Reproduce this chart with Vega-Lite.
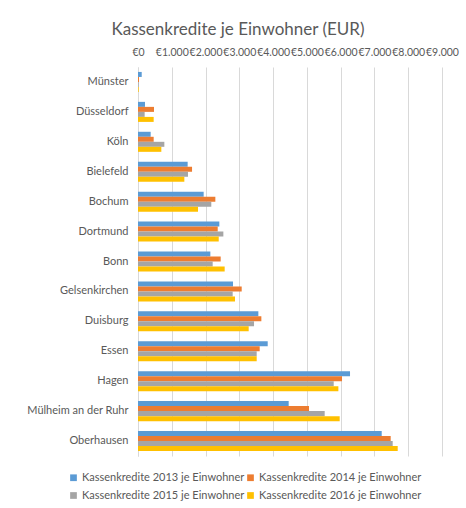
{
  "$schema": "https://vega.github.io/schema/vega-lite/v6.json",
  "width": 304,
  "height": 389,
  "autosize": "none",
  "padding": {"left": 138, "top": 67, "right": 24, "bottom": 52},
  "background": "white",
  "title": {
    "text": "Kassenkredite je Einwohner (EUR)",
    "font": "Lato",
    "fontSize": 17,
    "fontWeight": "normal",
    "color": "#595959",
    "anchor": "middle",
    "dx": -52,
    "offset": 8
  },
  "data": {
    "values": [
      {"city": "Münster", "series": "Kassenkredite 2013 je Einwohner", "value": 110},
      {"city": "Münster", "series": "Kassenkredite 2014 je Einwohner", "value": 30},
      {"city": "Münster", "series": "Kassenkredite 2015 je Einwohner", "value": 20},
      {"city": "Münster", "series": "Kassenkredite 2016 je Einwohner", "value": 20},
      {"city": "Düsseldorf", "series": "Kassenkredite 2013 je Einwohner", "value": 207},
      {"city": "Düsseldorf", "series": "Kassenkredite 2014 je Einwohner", "value": 474},
      {"city": "Düsseldorf", "series": "Kassenkredite 2015 je Einwohner", "value": 197},
      {"city": "Düsseldorf", "series": "Kassenkredite 2016 je Einwohner", "value": 464},
      {"city": "Köln", "series": "Kassenkredite 2013 je Einwohner", "value": 375},
      {"city": "Köln", "series": "Kassenkredite 2014 je Einwohner", "value": 464},
      {"city": "Köln", "series": "Kassenkredite 2015 je Einwohner", "value": 780},
      {"city": "Köln", "series": "Kassenkredite 2016 je Einwohner", "value": 691},
      {"city": "Bielefeld", "series": "Kassenkredite 2013 je Einwohner", "value": 1470},
      {"city": "Bielefeld", "series": "Kassenkredite 2014 je Einwohner", "value": 1600},
      {"city": "Bielefeld", "series": "Kassenkredite 2015 je Einwohner", "value": 1480},
      {"city": "Bielefeld", "series": "Kassenkredite 2016 je Einwohner", "value": 1372},
      {"city": "Bochum", "series": "Kassenkredite 2013 je Einwohner", "value": 1944},
      {"city": "Bochum", "series": "Kassenkredite 2014 je Einwohner", "value": 2290},
      {"city": "Bochum", "series": "Kassenkredite 2015 je Einwohner", "value": 2170},
      {"city": "Bochum", "series": "Kassenkredite 2016 je Einwohner", "value": 1777},
      {"city": "Dortmund", "series": "Kassenkredite 2013 je Einwohner", "value": 2408},
      {"city": "Dortmund", "series": "Kassenkredite 2014 je Einwohner", "value": 2360},
      {"city": "Dortmund", "series": "Kassenkredite 2015 je Einwohner", "value": 2527},
      {"city": "Dortmund", "series": "Kassenkredite 2016 je Einwohner", "value": 2390},
      {"city": "Bonn", "series": "Kassenkredite 2013 je Einwohner", "value": 2142},
      {"city": "Bonn", "series": "Kassenkredite 2014 je Einwohner", "value": 2448},
      {"city": "Bonn", "series": "Kassenkredite 2015 je Einwohner", "value": 2211},
      {"city": "Bonn", "series": "Kassenkredite 2016 je Einwohner", "value": 2566},
      {"city": "Gelsenkirchen", "series": "Kassenkredite 2013 je Einwohner", "value": 2813},
      {"city": "Gelsenkirchen", "series": "Kassenkredite 2014 je Einwohner", "value": 3070},
      {"city": "Gelsenkirchen", "series": "Kassenkredite 2015 je Einwohner", "value": 2803},
      {"city": "Gelsenkirchen", "series": "Kassenkredite 2016 je Einwohner", "value": 2872},
      {"city": "Duisburg", "series": "Kassenkredite 2013 je Einwohner", "value": 3563},
      {"city": "Duisburg", "series": "Kassenkredite 2014 je Einwohner", "value": 3652},
      {"city": "Duisburg", "series": "Kassenkredite 2015 je Einwohner", "value": 3435},
      {"city": "Duisburg", "series": "Kassenkredite 2016 je Einwohner", "value": 3277},
      {"city": "Essen", "series": "Kassenkredite 2013 je Einwohner", "value": 3840},
      {"city": "Essen", "series": "Kassenkredite 2014 je Einwohner", "value": 3603},
      {"city": "Essen", "series": "Kassenkredite 2015 je Einwohner", "value": 3514},
      {"city": "Essen", "series": "Kassenkredite 2016 je Einwohner", "value": 3514},
      {"city": "Hagen", "series": "Kassenkredite 2013 je Einwohner", "value": 6277},
      {"city": "Hagen", "series": "Kassenkredite 2014 je Einwohner", "value": 6040},
      {"city": "Hagen", "series": "Kassenkredite 2015 je Einwohner", "value": 5794},
      {"city": "Hagen", "series": "Kassenkredite 2016 je Einwohner", "value": 5932},
      {"city": "Mülheim an der Ruhr", "series": "Kassenkredite 2013 je Einwohner", "value": 4461},
      {"city": "Mülheim an der Ruhr", "series": "Kassenkredite 2014 je Einwohner", "value": 5063},
      {"city": "Mülheim an der Ruhr", "series": "Kassenkredite 2015 je Einwohner", "value": 5527},
      {"city": "Mülheim an der Ruhr", "series": "Kassenkredite 2016 je Einwohner", "value": 5971},
      {"city": "Oberhausen", "series": "Kassenkredite 2013 je Einwohner", "value": 7215},
      {"city": "Oberhausen", "series": "Kassenkredite 2014 je Einwohner", "value": 7481},
      {"city": "Oberhausen", "series": "Kassenkredite 2015 je Einwohner", "value": 7540},
      {"city": "Oberhausen", "series": "Kassenkredite 2016 je Einwohner", "value": 7689}
    ]
  },
  "mark": {"type": "bar"},
  "encoding": {
    "y": {
      "field": "city",
      "type": "nominal",
      "sort": null,
      "scale": {"paddingInner": 0.33, "paddingOuter": 0.165},
      "axis": {
        "title": null,
        "ticks": false,
        "domain": true,
        "domainColor": "#d9d9d9",
        "labelFont": "Lato",
        "labelFontSize": 11,
        "labelColor": "#595959",
        "labelPadding": 10
      }
    },
    "yOffset": {"field": "series", "type": "nominal", "sort": null},
    "x": {
      "field": "value",
      "type": "quantitative",
      "scale": {"domain": [0, 9000], "nice": false},
      "axis": {
        "orient": "top",
        "title": null,
        "values": [0, 1000, 2000, 3000, 4000, 5000, 6000, 7000, 8000, 9000],
        "labelExpr": "'€' + replace(format(datum.value, ','), ',', '.')",
        "labelOverlap": false,
        "labelFont": "Lato",
        "labelFontSize": 10.5,
        "labelColor": "#595959",
        "labelPadding": 10,
        "labelFlush": false,
        "ticks": false,
        "domain": false,
        "grid": true,
        "gridColor": "#d9d9d9"
      }
    },
    "color": {
      "field": "series",
      "type": "nominal",
      "sort": null,
      "scale": {"range": ["#5B9BD5", "#ED7D31", "#A5A5A5", "#FFC000"]},
      "legend": {
        "title": null,
        "orient": "none",
        "legendX": -70,
        "legendY": 405,
        "columns": 2,
        "direction": "horizontal",
        "symbolType": "square",
        "symbolSize": 45,
        "symbolStrokeWidth": 0,
        "labelFont": "Lato",
        "labelFontSize": 11,
        "labelColor": "#595959",
        "labelLimit": 300,
        "labelOffset": 3,
        "rowPadding": 6,
        "columnPadding": -9
      }
    }
  },
  "config": {"view": {"stroke": null}}
}
